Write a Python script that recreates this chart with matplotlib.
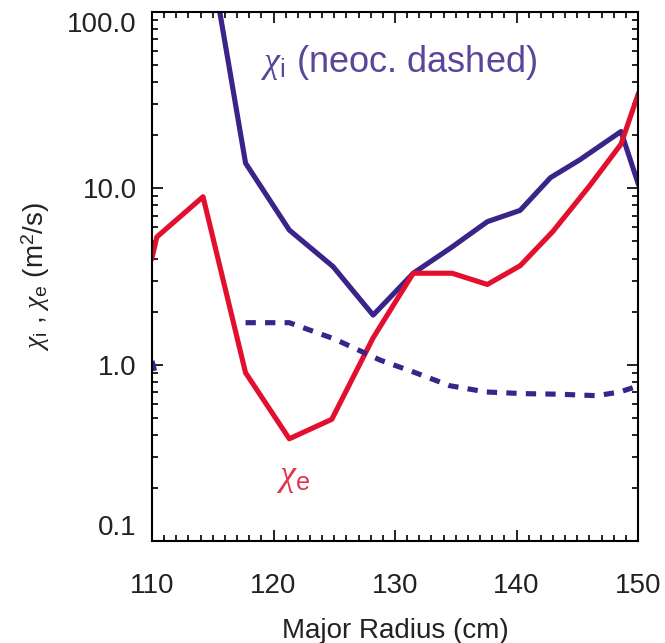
import numpy as np
import matplotlib
matplotlib.use("Agg")
import matplotlib.pyplot as plt
from matplotlib.ticker import LogLocator, FixedLocator, MultipleLocator, NullFormatter

plt.rcParams['font.family'] = ['Liberation Sans', 'DejaVu Sans']
plt.rcParams['mathtext.fontset'] = 'custom'
plt.rcParams['mathtext.rm'] = 'Liberation Sans'
plt.rcParams['mathtext.it'] = 'Liberation Serif:italic'

# chi_i (solid)
r_chii = [114.2, 117.7, 121.3, 124.9, 128.2, 131.5, 134.6, 137.6, 140.3, 142.8, 145.2, 148.6, 150.0]
chii = [360, 13.9, 5.8, 3.6, 1.91, 3.3, 4.6, 6.47, 7.5, 11.5, 14.5, 21.0, 10.7]

# chi_e (solid)
r_chie = [110.0, 110.4, 114.2, 117.7, 121.3, 124.8, 128.2, 131.5, 134.7, 137.6, 140.3, 143.0, 146.0, 148.6, 150.0]
chie = [4.03, 5.3, 8.96, 0.90, 0.38, 0.49, 1.42, 3.3, 3.3, 2.85, 3.64, 5.7, 10.3, 17.8, 34.0]

# neoclassical chi_i (dashed)
r_neo = [110.0, 110.4, np.nan, 117.7, 121.3, 125.0, 128.8, 131.5, 134.5, 137.5, 140.6, 143.5, 146.6, 148.5, 150.0]
neo = [1.05, 0.82, np.nan, 1.73, 1.73, 1.40, 1.06, 0.91, 0.76, 0.70, 0.685, 0.68, 0.667, 0.70, 0.757]

blue = '#3a2389'
red = '#e2102e'
txt = '#222222'

fig = plt.figure(figsize=(6.65, 6.43), dpi=100)
ax = fig.add_axes([152/665, 1 - 541/643, (638-152)/665, (541-12)/643])

ax.plot(r_chii, chii, color=blue, lw=3.7)
ax.plot(r_chie, chie, color=red, lw=3.7)
ax.plot(r_neo, neo, color=blue, lw=3.7, ls=(0, (2.0, 1.8)))

ax.set_yscale('log')
ax.set_xlim(110, 150)
ax.set_ylim(0.1, 100)

ax.xaxis.set_major_locator(MultipleLocator(10))
ax.xaxis.set_minor_locator(MultipleLocator(1))
ax.yaxis.set_major_locator(FixedLocator([0.1, 1, 10, 100]))
ax.yaxis.set_minor_locator(LogLocator(base=10, subs=np.arange(2, 10)))
ax.yaxis.set_minor_formatter(NullFormatter())
ylabs = ax.set_yticklabels(['0.1', '1.0', '10.0', '100.0'])
# keep end labels inside the frame, like the original
ylabs[0].set_va('bottom')
ylabs[-1].set_va('top')

ax.tick_params(which='both', direction='in', top=True, right=True, width=1.4, labelsize=20, colors=txt)
ax.tick_params(which='major', length=8)
ax.tick_params(which='minor', length=4.5)
ax.tick_params(axis='x', which='major', pad=23)
ax.tick_params(axis='y', which='major', pad=11)
for s in ax.spines.values():
    s.set_linewidth(1.5)

ax.set_xlabel('Major Radius (cm)', fontsize=20, color=txt, labelpad=14)
ax.set_ylabel(r'$\chi_\mathrm{i}$ , $\chi_\mathrm{e}$ (m$^2$/s)', fontsize=20, color=txt, labelpad=11)

ax.text(0.225, 0.905, r'$\chi_\mathrm{i}$ (neoc. dashed)', transform=ax.transAxes,
        fontsize=26, color='#5a4598', va='center', ha='left')
ax.text(0.258, 0.12, r'$\chi_\mathrm{e}$', transform=ax.transAxes,
        fontsize=26, color='#e5344f', va='center', ha='left')

fig.savefig('out.png', dpi=100)
